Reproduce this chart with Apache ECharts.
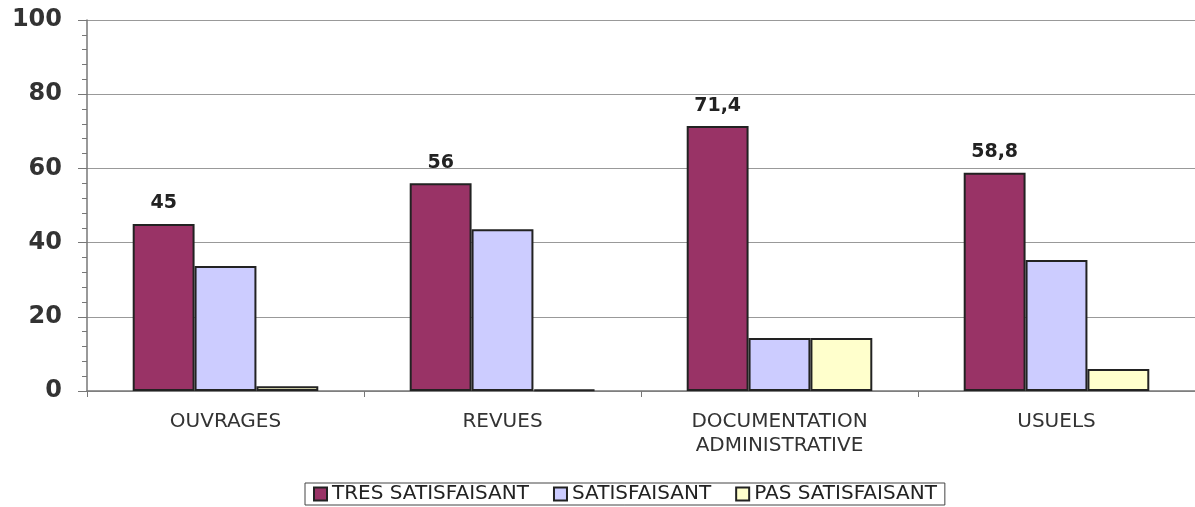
<!DOCTYPE html>
<html>
<head>
<meta charset="utf-8">
<script src="https://cdn.jsdelivr.net/npm/echarts@6/dist/echarts.min.js"></script>
<style>
  html, body { margin: 0; padding: 0; background: #fff; }
  #chart { width: 1195px; height: 507px; }
</style>
</head>
<body>
<div id="chart"></div>
<script>
const categories = ['OUVRAGES', 'REVUES', 'DOCUMENTATION\nADMINISTRATIVE', 'USUELS'];
const tresSatisfaisant = [45, 56, 71.4, 58.8];
const satisfaisant = [33.7, 43.6, 14.3, 35.3];
const pasSatisfaisant = [1.3, 0.4, 14.3, 5.9];
const seriesNames = ['TRES SATISFAISANT', 'SATISFAISANT', 'PAS SATISFAISANT'];
const colors = ['#993366', '#ccccff', '#ffffcc'];

const chart = echarts.init(document.getElementById('chart'));

const font = '"DejaVu Sans", Verdana, sans-serif';

function makeSeries(name, data, color, withLabel) {
  return {
    name: name,
    type: 'bar',
    data: data,
    barGap: '0%',
    barCategoryGap: '33%',
    itemStyle: { color: color, borderColor: '#222', borderWidth: 2 },
    label: {
      show: withLabel,
      position: 'top',
      distance: 11,
      fontFamily: font,
      fontSize: 19,
      fontWeight: 'bold',
      color: '#222',
      formatter: p => String(p.value).replace('.', ',')
    }
  };
}

chart.setOption({
  animation: false,
  backgroundColor: '#fff',
  grid: { left: 87, top: 20, right: -4, bottom: 116 },
  legend: {
    bottom: 2,
    left: 305,
    icon: 'rect',
    itemWidth: 13,
    itemHeight: 13,
    itemGap: 24,
    padding: [1, 8],
    borderColor: '#444',
    borderWidth: 1,
    textStyle: { fontFamily: font, fontSize: 20, color: '#222' },
    data: seriesNames
  },
  xAxis: {
    type: 'category',
    data: categories,
    axisLine: { lineStyle: { color: '#777', width: 1.5 } },
    axisTick: { show: true, length: 6, lineStyle: { color: '#777' } },
    axisLabel: {
      margin: 19,
      fontFamily: font,
      fontSize: 20,
      lineHeight: 24,
      color: '#333'
    }
  },
  yAxis: {
    type: 'value',
    min: 0,
    max: 100,
    interval: 20,
    axisLine: { show: true, lineStyle: { color: '#777', width: 1.5 } },
    axisTick: { show: true, length: 9, lineStyle: { color: '#777' } },
    minorTick: { show: true, splitNumber: 5, length: 5, lineStyle: { color: '#777' } },
    splitLine: { lineStyle: { color: '#999', width: 1 } },
    axisLabel: {
      margin: 25,
      fontFamily: font,
      fontSize: 24,
      fontWeight: 'bold',
      color: '#333'
    }
  },
  series: [
    makeSeries(seriesNames[0], tresSatisfaisant, colors[0], true),
    makeSeries(seriesNames[1], satisfaisant, colors[1], false),
    makeSeries(seriesNames[2], pasSatisfaisant, colors[2], false)
  ]
});
</script>
</body>
</html>
